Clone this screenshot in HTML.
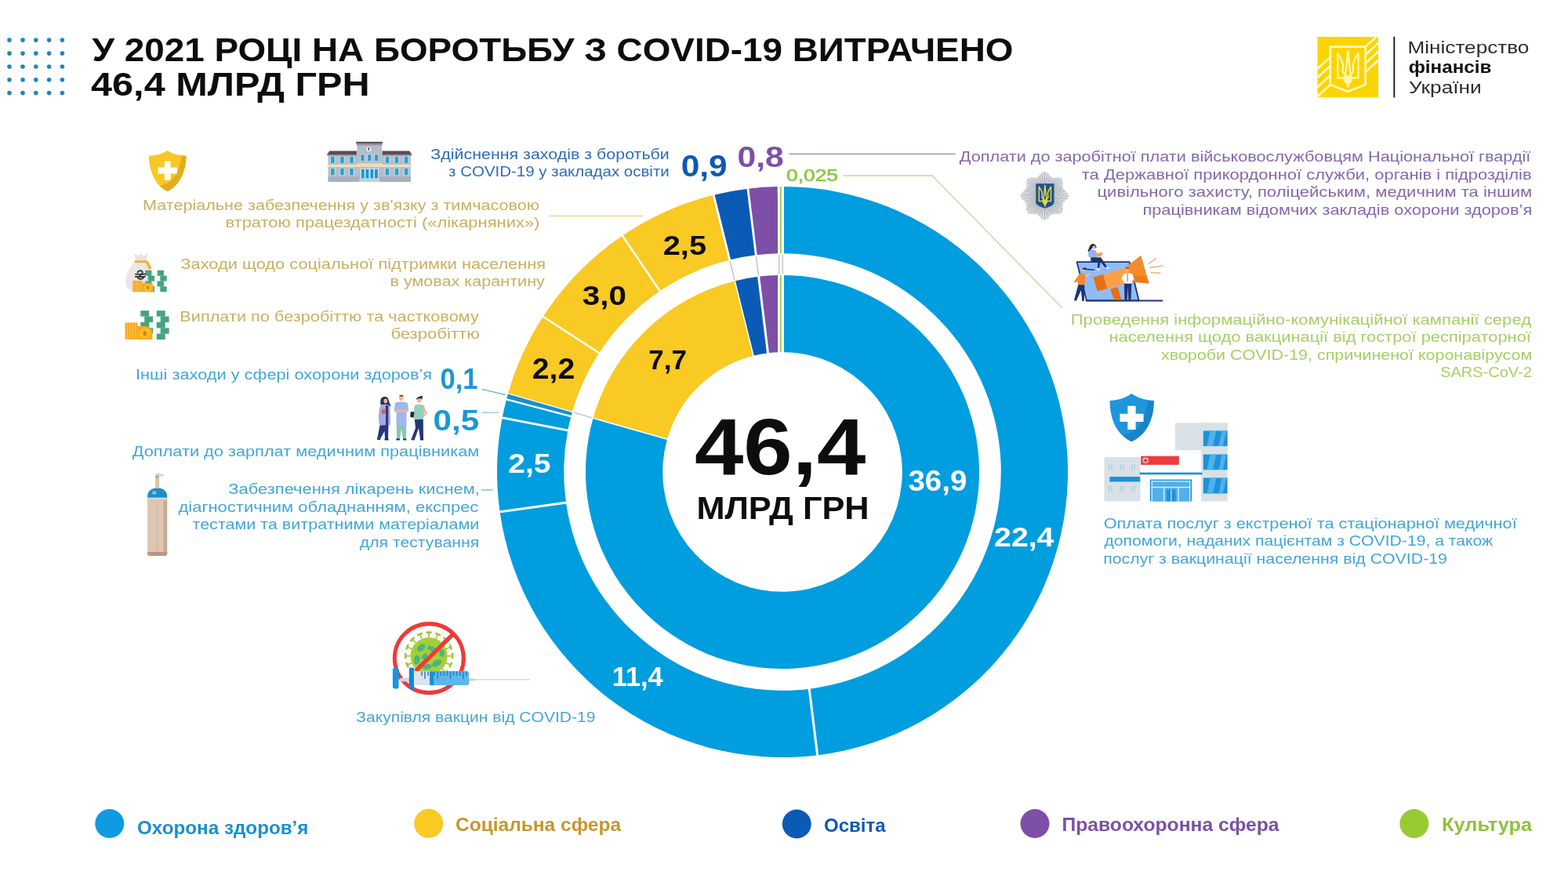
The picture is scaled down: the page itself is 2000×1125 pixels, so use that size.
<!DOCTYPE html>
<html lang="uk"><head><meta charset="utf-8"><title>У 2021 році на боротьбу з COVID-19 витрачено 46,4 млрд грн</title>
<style>html,body{margin:0;padding:0;background:#fff;}body{width:2000px;height:1125px;overflow:hidden;font-family:"Liberation Sans",sans-serif;}svg{display:block;}</style>
</head><body>
<svg width="2000" height="1125" viewBox="0 0 2000 1125" font-family="'Liberation Sans', sans-serif">
<rect width="2000" height="1125" fill="#ffffff"/>
<g id="dots"><circle cx="12" cy="51.1" r="2.8" fill="#2285bb"/>
<circle cx="12" cy="68.1" r="2.8" fill="#2285bb"/>
<circle cx="12" cy="85" r="2.8" fill="#2285bb"/>
<circle cx="12" cy="101.8" r="2.8" fill="#2285bb"/>
<circle cx="12" cy="118.6" r="2.8" fill="#2285bb"/>
<circle cx="29" cy="51.1" r="2.8" fill="#2285bb"/>
<circle cx="29" cy="68.1" r="2.8" fill="#2285bb"/>
<circle cx="29" cy="85" r="2.8" fill="#2285bb"/>
<circle cx="29" cy="101.8" r="2.8" fill="#2285bb"/>
<circle cx="29" cy="118.6" r="2.8" fill="#2285bb"/>
<circle cx="45.8" cy="51.1" r="2.8" fill="#2285bb"/>
<circle cx="45.8" cy="68.1" r="2.8" fill="#2285bb"/>
<circle cx="45.8" cy="85" r="2.8" fill="#2285bb"/>
<circle cx="45.8" cy="101.8" r="2.8" fill="#2285bb"/>
<circle cx="45.8" cy="118.6" r="2.8" fill="#2285bb"/>
<circle cx="62.6" cy="51.1" r="2.8" fill="#2285bb"/>
<circle cx="62.6" cy="68.1" r="2.8" fill="#2285bb"/>
<circle cx="62.6" cy="85" r="2.8" fill="#2285bb"/>
<circle cx="62.6" cy="101.8" r="2.8" fill="#2285bb"/>
<circle cx="62.6" cy="118.6" r="2.8" fill="#2285bb"/>
<circle cx="79.4" cy="51.1" r="2.8" fill="#2285bb"/>
<circle cx="79.4" cy="68.1" r="2.8" fill="#2285bb"/>
<circle cx="79.4" cy="85" r="2.8" fill="#2285bb"/>
<circle cx="79.4" cy="101.8" r="2.8" fill="#2285bb"/>
<circle cx="79.4" cy="118.6" r="2.8" fill="#2285bb"/></g>
<g id="chart"><path d="M998.00,238.00 A364.0,364.0 0 0 1 1042.68,963.25 L1032.22,878.69 A278.8,278.8 0 0 0 998.00,323.20 Z" fill="#009ddf"/>
<path d="M1042.68,963.25 A364.0,364.0 0 0 1 637.59,652.97 L721.95,641.04 A278.8,278.8 0 0 0 1032.22,878.69 Z" fill="#009ddf"/>
<path d="M637.59,652.97 A364.0,364.0 0 0 1 640.63,532.86 L724.28,549.04 A278.8,278.8 0 0 0 721.95,641.04 Z" fill="#009ddf"/>
<path d="M640.63,532.86 A364.0,364.0 0 0 1 645.98,509.39 L728.38,531.06 A278.8,278.8 0 0 0 724.28,549.04 Z" fill="#009ddf"/>
<path d="M645.98,509.39 A364.0,364.0 0 0 1 648.01,501.97 L729.93,525.39 A278.8,278.8 0 0 0 728.38,531.06 Z" fill="#1790d2"/>
<path d="M648.01,501.97 A364.0,364.0 0 0 1 692.72,403.75 L764.18,450.15 A278.8,278.8 0 0 0 729.93,525.39 Z" fill="#f9c924"/>
<path d="M692.72,403.75 A364.0,364.0 0 0 1 793.93,300.59 L841.69,371.14 A278.8,278.8 0 0 0 764.18,450.15 Z" fill="#f9c924"/>
<path d="M793.93,300.59 A364.0,364.0 0 0 1 910.19,248.75 L930.74,331.43 A278.8,278.8 0 0 0 841.69,371.14 Z" fill="#f9c924"/>
<path d="M910.19,248.75 A364.0,364.0 0 0 1 953.95,240.67 L964.26,325.25 A278.8,278.8 0 0 0 930.74,331.43 Z" fill="#0b5ab6"/>
<path d="M953.95,240.67 A364.0,364.0 0 0 1 991.65,238.06 L993.13,323.24 A278.8,278.8 0 0 0 964.26,325.25 Z" fill="#7d4fa6"/>
<line x1="1032.10" y1="877.70" x2="1042.80" y2="964.24" stroke="#fff" stroke-width="3.0"/>
<line x1="722.94" y1="640.90" x2="636.60" y2="653.11" stroke="#fff" stroke-width="3.0"/>
<line x1="725.26" y1="549.23" x2="639.65" y2="532.67" stroke="#fff" stroke-width="2.8"/>
<line x1="729.34" y1="531.32" x2="645.01" y2="509.13" stroke="#fff" stroke-width="2.2"/>
<line x1="730.89" y1="525.66" x2="647.05" y2="501.70" stroke="#fff" stroke-width="1.2"/>
<line x1="765.02" y1="450.70" x2="691.89" y2="403.21" stroke="#fff" stroke-width="2.4"/>
<line x1="842.25" y1="371.96" x2="793.37" y2="299.76" stroke="#fff" stroke-width="2.4"/>
<line x1="930.98" y1="332.40" x2="909.95" y2="247.78" stroke="#fff" stroke-width="2.8"/>
<line x1="964.39" y1="326.24" x2="953.83" y2="239.68" stroke="#fff" stroke-width="2.8"/>
<rect x="992.1" y="237.00" width="7.9" height="87.20" fill="#fff"/>
<rect x="994.9" y="238.00" width="1.7" height="85.20" fill="#8dc63f"/>
<path d="M998.00,351.00 A251.0,251.0 0 1 1 756.57,533.36 L851.02,560.22 A152.8,152.8 0 1 0 998.00,449.20 Z" fill="#009ddf"/>
<path d="M756.57,533.36 A251.0,251.0 0 0 1 937.28,358.46 L961.03,453.74 A152.8,152.8 0 0 0 851.02,560.22 Z" fill="#f9c924"/>
<path d="M937.28,358.46 A251.0,251.0 0 0 1 967.63,352.84 L979.51,450.32 A152.8,152.8 0 0 0 961.03,453.74 Z" fill="#0b5ab6"/>
<path d="M967.63,352.84 A251.0,251.0 0 0 1 993.62,351.04 L995.33,449.22 A152.8,152.8 0 0 0 979.51,450.32 Z" fill="#7d4fa6"/>
<line x1="851.99" y1="560.49" x2="755.61" y2="533.09" stroke="#fff" stroke-width="1.6"/>
<line x1="961.28" y1="454.71" x2="937.04" y2="357.49" stroke="#fff" stroke-width="1.5"/>
<line x1="979.63" y1="451.32" x2="967.51" y2="351.85" stroke="#fff" stroke-width="3.0"/>
<rect x="992.1" y="350.00" width="7.9" height="100.20" fill="#fff"/>
<rect x="994.9" y="351.00" width="1.7" height="98.20" fill="#8dc63f"/>
<line x1="755.12" y1="532.95" x2="731.38" y2="525.80" stroke="#c4c9d4" stroke-width="1.7"/>
<line x1="936.91" y1="357.00" x2="931.10" y2="332.89" stroke="#c4c9d4" stroke-width="1.7"/>
<line x1="967.45" y1="351.36" x2="964.45" y2="326.74" stroke="#c4c9d4" stroke-width="1.7"/>
<line x1="993.7" y1="324.7" x2="993.7" y2="349.5" stroke="#c4c9d4" stroke-width="1.6"/>
<line x1="998.3" y1="324.7" x2="998.3" y2="349.5" stroke="#c4c9d4" stroke-width="1.6"/></g>
<g id="leaders">
<line x1="701" y1="275.5" x2="820" y2="275.5" stroke="#e6dc8f" stroke-width="1.3"/>
<line x1="1006.4" y1="196.3" x2="1218.5" y2="196.3" stroke="#9383ad" stroke-width="1.3"/>
<polyline points="1075.4,224 1189,224 1355,393" fill="none" stroke="#c6d79a" stroke-width="1.3"/>
<line x1="614.4" y1="496.3" x2="644.8" y2="503.7" stroke="#6fa9cc" stroke-width="1.3"/>
<line x1="614.4" y1="526.1" x2="636.3" y2="526.1" stroke="#8cc3e0" stroke-width="1.3"/>
<line x1="613.75" y1="625" x2="628.75" y2="625" stroke="#6fb2d8" stroke-width="1.3"/>
</g>
<g id="icons"><g transform="translate(1670,40) scale(0.08000)"><clipPath id="lgc"><rect x="128" y="85" width="972" height="970"/></clipPath><g clip-path="url(#lgc)">
<rect x="128" y="85" width="972" height="970" fill="#fcd400"/>
<g stroke="#fff8b8" stroke-width="34" fill="none">
<path d="M128,600 L335,410 M128,740 L335,550 M128,890 L335,700 M128,1040 L335,850"/>
<path d="M895,245 L1075,85 M895,375 L1100,185 M895,510 L1100,320 M895,650 L1100,460"/>
</g>
<path d="M335,245 L895,245 L895,850 L615,960 L335,850 Z" fill="#fcd400" stroke="#fff8b8" stroke-width="34" stroke-linejoin="miter"/>
<g transform="translate(435,310) scale(0.91,0.96)"><g fill="none" stroke="#fff8b8" stroke-width="30" stroke-linejoin="round" stroke-linecap="round">
<path d="M20,40 L20,450 L130,450 C140,490 160,520 185,535 L185,470 C150,455 135,420 150,385 C115,370 95,340 110,300 C130,250 95,140 20,40 Z"/>
<path d="M380,40 L380,450 L270,450 C260,490 240,520 215,535 L215,470 C250,455 265,420 250,385 C285,370 305,340 290,300 C270,250 305,140 380,40 Z"/>
<path d="M200,0 C180,120 185,250 150,385 C170,400 190,430 200,470 C210,430 230,400 250,385 C215,250 220,120 200,0 Z"/>
<path d="M185,535 C190,560 195,580 200,600 C205,580 210,560 215,535"/>
</g></g>
<rect x="1346" y="85" width="22" height="970" fill="#1d1d1d"/>
</g><rect x="1342" y="85" width="24" height="970" fill="#1d1d1d"/></g>
<g transform="translate(170,180) scale(0.06223)">
<path d="M700,190 C620,260 480,295 320,300 C320,560 420,900 700,1030 C980,900 1085,560 1085,300 C920,295 780,260 700,190 Z" fill="#f8c826"/>
<path d="M1085,300 C1085,560 980,900 700,1030 C640,1000 590,960 545,915 C800,870 960,640 985,298 Z" fill="#e0ad1c"/>
<path d="M640,415 h125 v125 h135 v125 h-135 v135 h-125 v-135 h-135 v-125 h135 Z" fill="#fffdf5"/>
</g>
<g transform="translate(400,170) scale(0.07000)"><rect x="265" y="395" width="1505" height="490" fill="#b7bccb"/><path d="M245,385 L290,320 L785,320 L785,400 L245,400 Z" fill="#5b4b55"/><path d="M1790,385 L1745,320 L1250,320 L1250,400 L1790,400 Z" fill="#5b4b55"/><rect x="245" y="385" width="540" height="22" fill="#8d8590"/><rect x="1250" y="385" width="540" height="22" fill="#8d8590"/><rect x="790" y="200" width="455" height="685" fill="#b7bccb"/><rect x="775" y="155" width="480" height="35" fill="#5b4b55"/><rect x="785" y="190" width="465" height="28" fill="#8f8a98"/><rect x="265" y="790" width="1505" height="95" fill="#a9afc0"/><rect x="245" y="570" width="1545" height="45" fill="#f1dfae"/><rect x="790" y="545" width="455" height="50" fill="#ecd9b0"/><rect x="301" y="417" width="93" height="132" fill="#c9e6f2"/><rect x="315" y="425" width="65" height="120" fill="#2e9fc6"/><rect x="301" y="632" width="93" height="132" fill="#c9e6f2"/><rect x="315" y="640" width="65" height="120" fill="#2e9fc6"/><rect x="473" y="417" width="93" height="132" fill="#c9e6f2"/><rect x="487" y="425" width="65" height="120" fill="#2e9fc6"/><rect x="473" y="632" width="93" height="132" fill="#c9e6f2"/><rect x="487" y="640" width="65" height="120" fill="#2e9fc6"/><rect x="646" y="417" width="93" height="132" fill="#c9e6f2"/><rect x="660" y="425" width="65" height="120" fill="#2e9fc6"/><rect x="646" y="632" width="93" height="132" fill="#c9e6f2"/><rect x="660" y="640" width="65" height="120" fill="#2e9fc6"/><rect x="1296" y="417" width="93" height="132" fill="#c9e6f2"/><rect x="1310" y="425" width="65" height="120" fill="#2e9fc6"/><rect x="1296" y="632" width="93" height="132" fill="#c9e6f2"/><rect x="1310" y="640" width="65" height="120" fill="#2e9fc6"/><rect x="1468" y="417" width="93" height="132" fill="#c9e6f2"/><rect x="1482" y="425" width="65" height="120" fill="#2e9fc6"/><rect x="1468" y="632" width="93" height="132" fill="#c9e6f2"/><rect x="1482" y="640" width="65" height="120" fill="#2e9fc6"/><rect x="1641" y="417" width="93" height="132" fill="#c9e6f2"/><rect x="1655" y="425" width="65" height="120" fill="#2e9fc6"/><rect x="1641" y="632" width="93" height="132" fill="#c9e6f2"/><rect x="1655" y="640" width="65" height="120" fill="#2e9fc6"/><rect x="850" y="380" width="84" height="135" fill="#c9e6f2"/><rect x="862" y="390" width="60" height="115" fill="#2e9fc6"/><rect x="976" y="380" width="84" height="135" fill="#c9e6f2"/><rect x="988" y="390" width="60" height="115" fill="#2e9fc6"/><rect x="1103" y="380" width="84" height="135" fill="#c9e6f2"/><rect x="1115" y="390" width="60" height="115" fill="#2e9fc6"/><rect x="850" y="640" width="335" height="245" fill="#cfe9f3"/><rect x="870" y="655" width="55" height="165" fill="#1f96cf"/><rect x="950" y="655" width="55" height="165" fill="#1f96cf"/><rect x="1035" y="655" width="55" height="165" fill="#1f96cf"/><rect x="1115" y="655" width="55" height="165" fill="#1f96cf"/><rect x="830" y="830" width="375" height="55" fill="#c4ccd8"/><circle cx="1005" cy="290" r="42" fill="#eef0f4"/><ellipse cx="1005" cy="285" rx="12" ry="30" fill="#3a3f55"/></g>
<g transform="translate(140,310) scale(0.12438)"><path d="M250,105 L290,135 L320,110 L350,135 L390,100 L375,180 L265,180 Z" fill="#e6e3e1"/><path d="M265,185 L375,185 C420,240 470,330 460,420 C450,490 380,500 310,500 C230,500 165,480 160,400 C155,320 215,230 265,185 Z" fill="#ebe7e4"/><path d="M255,178 L385,178 L400,200 L430,260 L400,270 L370,200 L255,200 Z" fill="#f5b02e"/><rect x="415.3" y="329.5" width="122.1" height="170.5" fill="#f3f8f5"/><rect x="362.0" y="280.0" width="66.6" height="55.8" fill="#45a37f"/><rect x="487.4" y="280.0" width="66.6" height="55.8" fill="#45a37f"/><rect x="392.0" y="335.0" width="66.6" height="55.8" fill="#45a37f"/><rect x="517.4" y="335.0" width="66.6" height="55.8" fill="#45a37f"/><rect x="362.0" y="390.0" width="66.6" height="55.8" fill="#45a37f"/><rect x="487.4" y="390.0" width="66.6" height="55.8" fill="#45a37f"/><rect x="392.0" y="445.0" width="66.6" height="55.8" fill="#45a37f"/><rect x="517.4" y="445.0" width="66.6" height="55.8" fill="#45a37f"/><rect x="235" y="385" width="98.9" height="115" rx="5" fill="#f6a823"/><rect x="246.9" y="390" width="8.9" height="105" fill="#fcc243"/><rect x="268.6" y="390" width="8.9" height="105" fill="#fcc243"/><rect x="290.4" y="390" width="8.9" height="105" fill="#fcc243"/><rect x="312.1" y="390" width="8.9" height="105" fill="#fcc243"/><path d="M331.9,408.0 L396.9,408.0 Q450.0,417.2 450.0,449.4 L450.0,500.0 L331.9,500.0 Z" fill="#f7a91f"/><ellipse cx="390.9" cy="458.6" rx="44.9" ry="36.8" fill="#fdbb2a"/><ellipse cx="390.9" cy="458.6" rx="13.0" ry="17.5" fill="#c98514"/><g stroke="#3b3b3f" stroke-width="16" fill="none" stroke-linecap="round"><path d="M285,300 C300,275 340,280 335,305 C330,325 300,335 290,360 C310,375 335,370 345,355"/><path d="M265,320 L360,320 M265,345 L360,345"/></g></g>
<g transform="translate(140,310) scale(0.12438)"><rect x="386.1" y="746.3" width="160.6" height="242.7" fill="#f3f8f5"/><rect x="316.0" y="693.0" width="87.6" height="60.0" fill="#45a37f"/><rect x="481.0" y="693.0" width="87.6" height="60.0" fill="#45a37f"/><rect x="355.4" y="752.2" width="87.6" height="60.0" fill="#45a37f"/><rect x="520.4" y="752.2" width="87.6" height="60.0" fill="#45a37f"/><rect x="316.0" y="811.4" width="87.6" height="60.0" fill="#45a37f"/><rect x="481.0" y="811.4" width="87.6" height="60.0" fill="#45a37f"/><rect x="355.4" y="870.6" width="87.6" height="60.0" fill="#45a37f"/><rect x="520.4" y="870.6" width="87.6" height="60.0" fill="#45a37f"/><rect x="316.0" y="929.8" width="87.6" height="60.0" fill="#45a37f"/><rect x="481.0" y="929.8" width="87.6" height="60.0" fill="#45a37f"/><rect x="157" y="817" width="128.8" height="172" rx="5" fill="#f6a823"/><rect x="172.5" y="822" width="11.6" height="162" fill="#fcc243"/><rect x="200.8" y="822" width="11.6" height="162" fill="#fcc243"/><rect x="229.1" y="822" width="11.6" height="162" fill="#fcc243"/><rect x="257.5" y="822" width="11.6" height="162" fill="#fcc243"/><path d="M283.8,851.4 L368.1,851.4 Q437.0,865.2 437.0,913.3 L437.0,989.0 L283.8,989.0 Z" fill="#f7a91f"/><ellipse cx="360.4" cy="927.1" rx="58.2" ry="55.0" fill="#fdbb2a"/><ellipse cx="360.4" cy="927.1" rx="16.9" ry="26.1" fill="#c98514"/></g>
<g transform="translate(160,590) scale(0.11561)"><rect x="243" y="390" width="217" height="640" rx="28" fill="#dfc5b5"/><rect x="243" y="390" width="217" height="60" fill="#dfc5b5"/><path d="M420,395 L460,395 L460,1000 Q460,1030 430,1030 L420,1030 Z" fill="#c9a992"/><rect x="345" y="400" width="12" height="590" fill="#d5b7a5"/><path d="M243,985 L460,985 L460,1002 Q460,1030 432,1030 L271,1030 Q243,1030 243,1002 Z" fill="#b9957f"/><rect x="243" y="385" width="217" height="22" fill="#c8dfe8"/><rect x="243" y="405" width="217" height="18" fill="#e9bfa5"/><path d="M243,388 L243,370 C243,320 290,280 352,280 C414,280 460,320 460,370 L460,388 Z" fill="#1e8fcb"/><path d="M290,325 L330,310 L345,345 L305,355 Z" fill="#7cc4ea"/><rect x="330" y="150" width="42" height="135" fill="#e0c0a8"/><rect x="330" y="140" width="42" height="28" fill="#b9a595"/><path d="M340,110 L420,135 L415,155 L340,140 Z" fill="#d8d4d2"/></g>
<g transform="translate(460,490) scale(0.10000)"><path d="M285,165 C250,170 250,230 255,260 L270,270 L335,260 L380,285 L385,265 C360,250 365,200 345,175 C330,160 300,158 285,165 Z" fill="#2a2d5c"/><ellipse cx="318" cy="215" rx="24" ry="30" fill="#f2b48f"/><path d="M255,265 C300,250 340,255 375,275 L380,520 L240,525 C225,430 225,340 255,265 Z" fill="#a9a7e0"/><rect x="320" y="270" width="32" height="255" fill="#2b3a86"/><path d="M265,330 L310,310 L320,365 L275,385 Z" fill="#c9665a"/><path d="M245,525 L355,520 L350,700 L310,700 L305,600 L255,690 L215,680 Z" fill="#27357a"/><path d="M210,680 L255,690 L245,715 L210,705 Z M305,695 L355,695 L358,715 L305,715 Z" fill="#1d2553"/><ellipse cx="518" cy="175" rx="28" ry="34" fill="#f2b48f"/><path d="M488,165 C485,130 550,125 550,165 L548,150 L490,152 Z" fill="#2a2d3c"/><path d="M440,240 C480,220 560,220 600,240 L612,340 L585,350 L585,530 L455,530 L455,350 L425,340 Z" fill="#9fb8ea"/><path d="M430,325 L605,325 L605,355 L430,355 Z" fill="#f2b48f"/><path d="M458,530 L582,530 L580,700 L540,700 L520,570 L500,700 L460,700 Z" fill="#86c5b4"/><path d="M455,695 L500,695 L500,715 L450,715 Z M540,695 L582,695 L585,715 L540,715 Z" fill="#2a2d5c"/><ellipse cx="748" cy="205" rx="27" ry="32" fill="#f2b48f"/><path d="M710,200 C705,165 760,150 790,150 L785,195 C770,180 740,178 720,190 Z" fill="#2a2d5c"/><path d="M690,270 C730,250 780,255 815,280 L800,450 L685,455 C675,390 675,320 690,270 Z" fill="#93d0c0"/><path d="M810,290 L850,370 L805,420 L795,400 L820,370 L795,310 Z" fill="#f2b48f"/><path d="M640,350 L685,355 L675,430 L630,415 Z" fill="#1f2542"/><path d="M688,452 L798,448 L800,700 L760,700 L740,560 L690,700 L650,690 L700,560 Z" fill="#27357a"/><path d="M645,690 L690,700 L685,715 L645,712 Z M760,695 L800,695 L802,715 L758,715 Z" fill="#1d2553"/></g>
<g transform="translate(480,780) scale(0.11000)"><line x1="825" y1="515" x2="882" y2="515" stroke="#a3c93c" stroke-width="16"/><line x1="882" y1="493" x2="882" y2="537" stroke="#a3c93c" stroke-width="26" stroke-linecap="round"/><line x1="809" y1="597" x2="861" y2="619" stroke="#a3c93c" stroke-width="16"/><line x1="870" y1="599" x2="853" y2="639" stroke="#a3c93c" stroke-width="26" stroke-linecap="round"/><line x1="762" y1="667" x2="802" y2="707" stroke="#a3c93c" stroke-width="16"/><line x1="818" y1="692" x2="787" y2="723" stroke="#a3c93c" stroke-width="26" stroke-linecap="round"/><line x1="692" y1="714" x2="714" y2="766" stroke="#a3c93c" stroke-width="16"/><line x1="734" y1="758" x2="694" y2="775" stroke="#a3c93c" stroke-width="26" stroke-linecap="round"/><line x1="610" y1="730" x2="610" y2="787" stroke="#a3c93c" stroke-width="16"/><line x1="632" y1="787" x2="588" y2="787" stroke="#a3c93c" stroke-width="26" stroke-linecap="round"/><line x1="528" y1="714" x2="506" y2="766" stroke="#a3c93c" stroke-width="16"/><line x1="526" y1="775" x2="486" y2="758" stroke="#a3c93c" stroke-width="26" stroke-linecap="round"/><line x1="458" y1="667" x2="418" y2="707" stroke="#a3c93c" stroke-width="16"/><line x1="433" y1="723" x2="402" y2="692" stroke="#a3c93c" stroke-width="26" stroke-linecap="round"/><line x1="411" y1="597" x2="359" y2="619" stroke="#a3c93c" stroke-width="16"/><line x1="367" y1="639" x2="350" y2="599" stroke="#a3c93c" stroke-width="26" stroke-linecap="round"/><line x1="395" y1="515" x2="338" y2="515" stroke="#a3c93c" stroke-width="16"/><line x1="338" y1="537" x2="338" y2="493" stroke="#a3c93c" stroke-width="26" stroke-linecap="round"/><line x1="411" y1="433" x2="359" y2="411" stroke="#a3c93c" stroke-width="16"/><line x1="350" y1="431" x2="367" y2="391" stroke="#a3c93c" stroke-width="26" stroke-linecap="round"/><line x1="458" y1="363" x2="418" y2="323" stroke="#a3c93c" stroke-width="16"/><line x1="402" y1="338" x2="433" y2="307" stroke="#a3c93c" stroke-width="26" stroke-linecap="round"/><line x1="528" y1="316" x2="506" y2="264" stroke="#a3c93c" stroke-width="16"/><line x1="486" y1="272" x2="526" y2="255" stroke="#a3c93c" stroke-width="26" stroke-linecap="round"/><line x1="610" y1="300" x2="610" y2="243" stroke="#a3c93c" stroke-width="16"/><line x1="588" y1="243" x2="632" y2="243" stroke="#a3c93c" stroke-width="26" stroke-linecap="round"/><line x1="692" y1="316" x2="714" y2="264" stroke="#a3c93c" stroke-width="16"/><line x1="694" y1="255" x2="734" y2="272" stroke="#a3c93c" stroke-width="26" stroke-linecap="round"/><line x1="762" y1="363" x2="802" y2="323" stroke="#a3c93c" stroke-width="16"/><line x1="787" y1="307" x2="818" y2="338" stroke="#a3c93c" stroke-width="26" stroke-linecap="round"/><line x1="809" y1="433" x2="861" y2="411" stroke="#a3c93c" stroke-width="16"/><line x1="853" y1="391" x2="870" y2="431" stroke="#a3c93c" stroke-width="26" stroke-linecap="round"/><circle cx="610" cy="515" r="215" fill="#a5cf3a"/><ellipse cx="520" cy="420" rx="55" ry="35" transform="rotate(-40 520 420)" fill="#4fb37a"/><ellipse cx="700" cy="600" rx="60" ry="35" transform="rotate(-30 700 600)" fill="#4fb37a"/><ellipse cx="470" cy="560" rx="35" ry="55" transform="rotate(10 470 560)" fill="#4fb37a"/><ellipse cx="640" cy="430" rx="50" ry="28" transform="rotate(20 640 430)" fill="#4fb37a"/><ellipse cx="590" cy="640" rx="55" ry="30" transform="rotate(-10 590 640)" fill="#4fb37a"/><ellipse cx="760" cy="480" rx="30" ry="45" transform="rotate(0 760 480)" fill="#4fb37a"/><ellipse cx="560" cy="520" rx="40" ry="25" transform="rotate(-45 560 520)" fill="#4fb37a"/><circle cx="612" cy="542" r="400" fill="none" stroke="#ee3a3a" stroke-width="46"/><line x1="455" y1="690" x2="890" y2="262" stroke="#ee3a3a" stroke-width="48"/><rect x="275" y="772" width="200" height="40" fill="#cfd6df"/><rect x="435" y="690" width="640" height="165" rx="30" fill="#dbe3ec"/><path d="M620,690 L1045,690 Q1075,690 1075,720 L1075,825 Q1075,855 1045,855 L620,855 Z" fill="#5db7ea"/><rect x="620" y="700" width="45" height="155" fill="#1a8fd3"/><rect x="520" y="695" width="14" height="50" fill="#2b7fc0"/><rect x="557" y="695" width="14" height="85" fill="#2b7fc0"/><rect x="594" y="695" width="14" height="50" fill="#2b7fc0"/><rect x="631" y="695" width="14" height="50" fill="#2b7fc0"/><rect x="668" y="695" width="14" height="50" fill="#2b7fc0"/><rect x="705" y="695" width="14" height="85" fill="#2b7fc0"/><rect x="742" y="695" width="14" height="50" fill="#2b7fc0"/><rect x="779" y="695" width="14" height="50" fill="#2b7fc0"/><rect x="816" y="695" width="14" height="50" fill="#2b7fc0"/><rect x="853" y="695" width="14" height="85" fill="#2b7fc0"/><rect x="890" y="695" width="14" height="50" fill="#2b7fc0"/><rect x="927" y="695" width="14" height="50" fill="#2b7fc0"/><rect x="964" y="695" width="14" height="50" fill="#2b7fc0"/><rect x="1001" y="695" width="14" height="85" fill="#2b7fc0"/><rect x="1038" y="695" width="14" height="50" fill="#2b7fc0"/><rect x="190" y="655" width="70" height="240" rx="22" fill="#1b95dc"/><rect x="380" y="650" width="56" height="250" rx="14" fill="#1687cf"/><rect x="1075" y="778" width="70" height="26" fill="#c9cdd3"/><rect x="1140" y="783" width="640" height="12" fill="#d3d3d3"/></g>
<g transform="translate(1280,200) scale(0.08889)"><line x1="590" y1="560" x2="937" y2="560" stroke="#a9aeb6" stroke-width="13"/><line x1="590" y1="560" x2="932" y2="582" stroke="#c3c7cd" stroke-width="13"/><line x1="590" y1="560" x2="919" y2="603" stroke="#a9aeb6" stroke-width="13"/><line x1="590" y1="560" x2="900" y2="622" stroke="#c3c7cd" stroke-width="13"/><line x1="590" y1="560" x2="880" y2="638" stroke="#a9aeb6" stroke-width="13"/><line x1="590" y1="560" x2="864" y2="653" stroke="#c3c7cd" stroke-width="13"/><line x1="590" y1="560" x2="853" y2="669" stroke="#a9aeb6" stroke-width="13"/><line x1="590" y1="560" x2="849" y2="688" stroke="#c3c7cd" stroke-width="13"/><line x1="590" y1="560" x2="850" y2="710" stroke="#a9aeb6" stroke-width="13"/><line x1="590" y1="560" x2="853" y2="736" stroke="#c3c7cd" stroke-width="13"/><line x1="590" y1="560" x2="853" y2="762" stroke="#a9aeb6" stroke-width="13"/><line x1="590" y1="560" x2="848" y2="786" stroke="#c3c7cd" stroke-width="13"/><line x1="590" y1="560" x2="835" y2="805" stroke="#a9aeb6" stroke-width="13"/><line x1="590" y1="560" x2="816" y2="818" stroke="#c3c7cd" stroke-width="13"/><line x1="590" y1="560" x2="792" y2="823" stroke="#a9aeb6" stroke-width="13"/><line x1="590" y1="560" x2="766" y2="823" stroke="#c3c7cd" stroke-width="13"/><line x1="590" y1="560" x2="740" y2="820" stroke="#a9aeb6" stroke-width="13"/><line x1="590" y1="560" x2="718" y2="819" stroke="#c3c7cd" stroke-width="13"/><line x1="590" y1="560" x2="699" y2="823" stroke="#a9aeb6" stroke-width="13"/><line x1="590" y1="560" x2="683" y2="834" stroke="#c3c7cd" stroke-width="13"/><line x1="590" y1="560" x2="668" y2="850" stroke="#a9aeb6" stroke-width="13"/><line x1="590" y1="560" x2="652" y2="870" stroke="#c3c7cd" stroke-width="13"/><line x1="590" y1="560" x2="633" y2="889" stroke="#a9aeb6" stroke-width="13"/><line x1="590" y1="560" x2="612" y2="902" stroke="#c3c7cd" stroke-width="13"/><line x1="590" y1="560" x2="590" y2="907" stroke="#a9aeb6" stroke-width="13"/><line x1="590" y1="560" x2="568" y2="902" stroke="#c3c7cd" stroke-width="13"/><line x1="590" y1="560" x2="547" y2="889" stroke="#a9aeb6" stroke-width="13"/><line x1="590" y1="560" x2="528" y2="870" stroke="#c3c7cd" stroke-width="13"/><line x1="590" y1="560" x2="512" y2="850" stroke="#a9aeb6" stroke-width="13"/><line x1="590" y1="560" x2="497" y2="834" stroke="#c3c7cd" stroke-width="13"/><line x1="590" y1="560" x2="481" y2="823" stroke="#a9aeb6" stroke-width="13"/><line x1="590" y1="560" x2="462" y2="819" stroke="#c3c7cd" stroke-width="13"/><line x1="590" y1="560" x2="440" y2="820" stroke="#a9aeb6" stroke-width="13"/><line x1="590" y1="560" x2="414" y2="823" stroke="#c3c7cd" stroke-width="13"/><line x1="590" y1="560" x2="388" y2="823" stroke="#a9aeb6" stroke-width="13"/><line x1="590" y1="560" x2="364" y2="818" stroke="#c3c7cd" stroke-width="13"/><line x1="590" y1="560" x2="345" y2="805" stroke="#a9aeb6" stroke-width="13"/><line x1="590" y1="560" x2="332" y2="786" stroke="#c3c7cd" stroke-width="13"/><line x1="590" y1="560" x2="327" y2="762" stroke="#a9aeb6" stroke-width="13"/><line x1="590" y1="560" x2="327" y2="736" stroke="#c3c7cd" stroke-width="13"/><line x1="590" y1="560" x2="330" y2="710" stroke="#a9aeb6" stroke-width="13"/><line x1="590" y1="560" x2="331" y2="688" stroke="#c3c7cd" stroke-width="13"/><line x1="590" y1="560" x2="327" y2="669" stroke="#a9aeb6" stroke-width="13"/><line x1="590" y1="560" x2="316" y2="653" stroke="#c3c7cd" stroke-width="13"/><line x1="590" y1="560" x2="300" y2="638" stroke="#a9aeb6" stroke-width="13"/><line x1="590" y1="560" x2="280" y2="622" stroke="#c3c7cd" stroke-width="13"/><line x1="590" y1="560" x2="261" y2="603" stroke="#a9aeb6" stroke-width="13"/><line x1="590" y1="560" x2="248" y2="582" stroke="#c3c7cd" stroke-width="13"/><line x1="590" y1="560" x2="243" y2="560" stroke="#a9aeb6" stroke-width="13"/><line x1="590" y1="560" x2="248" y2="538" stroke="#c3c7cd" stroke-width="13"/><line x1="590" y1="560" x2="261" y2="517" stroke="#a9aeb6" stroke-width="13"/><line x1="590" y1="560" x2="280" y2="498" stroke="#c3c7cd" stroke-width="13"/><line x1="590" y1="560" x2="300" y2="482" stroke="#a9aeb6" stroke-width="13"/><line x1="590" y1="560" x2="316" y2="467" stroke="#c3c7cd" stroke-width="13"/><line x1="590" y1="560" x2="327" y2="451" stroke="#a9aeb6" stroke-width="13"/><line x1="590" y1="560" x2="331" y2="432" stroke="#c3c7cd" stroke-width="13"/><line x1="590" y1="560" x2="330" y2="410" stroke="#a9aeb6" stroke-width="13"/><line x1="590" y1="560" x2="327" y2="384" stroke="#c3c7cd" stroke-width="13"/><line x1="590" y1="560" x2="327" y2="358" stroke="#a9aeb6" stroke-width="13"/><line x1="590" y1="560" x2="332" y2="334" stroke="#c3c7cd" stroke-width="13"/><line x1="590" y1="560" x2="345" y2="315" stroke="#a9aeb6" stroke-width="13"/><line x1="590" y1="560" x2="364" y2="302" stroke="#c3c7cd" stroke-width="13"/><line x1="590" y1="560" x2="388" y2="297" stroke="#a9aeb6" stroke-width="13"/><line x1="590" y1="560" x2="414" y2="297" stroke="#c3c7cd" stroke-width="13"/><line x1="590" y1="560" x2="440" y2="300" stroke="#a9aeb6" stroke-width="13"/><line x1="590" y1="560" x2="462" y2="301" stroke="#c3c7cd" stroke-width="13"/><line x1="590" y1="560" x2="481" y2="297" stroke="#a9aeb6" stroke-width="13"/><line x1="590" y1="560" x2="497" y2="286" stroke="#c3c7cd" stroke-width="13"/><line x1="590" y1="560" x2="512" y2="270" stroke="#a9aeb6" stroke-width="13"/><line x1="590" y1="560" x2="528" y2="250" stroke="#c3c7cd" stroke-width="13"/><line x1="590" y1="560" x2="547" y2="231" stroke="#a9aeb6" stroke-width="13"/><line x1="590" y1="560" x2="568" y2="218" stroke="#c3c7cd" stroke-width="13"/><line x1="590" y1="560" x2="590" y2="213" stroke="#a9aeb6" stroke-width="13"/><line x1="590" y1="560" x2="612" y2="218" stroke="#c3c7cd" stroke-width="13"/><line x1="590" y1="560" x2="633" y2="231" stroke="#a9aeb6" stroke-width="13"/><line x1="590" y1="560" x2="652" y2="250" stroke="#c3c7cd" stroke-width="13"/><line x1="590" y1="560" x2="668" y2="270" stroke="#a9aeb6" stroke-width="13"/><line x1="590" y1="560" x2="683" y2="286" stroke="#c3c7cd" stroke-width="13"/><line x1="590" y1="560" x2="699" y2="297" stroke="#a9aeb6" stroke-width="13"/><line x1="590" y1="560" x2="718" y2="301" stroke="#c3c7cd" stroke-width="13"/><line x1="590" y1="560" x2="740" y2="300" stroke="#a9aeb6" stroke-width="13"/><line x1="590" y1="560" x2="766" y2="297" stroke="#c3c7cd" stroke-width="13"/><line x1="590" y1="560" x2="792" y2="297" stroke="#a9aeb6" stroke-width="13"/><line x1="590" y1="560" x2="816" y2="302" stroke="#c3c7cd" stroke-width="13"/><line x1="590" y1="560" x2="835" y2="315" stroke="#a9aeb6" stroke-width="13"/><line x1="590" y1="560" x2="848" y2="334" stroke="#c3c7cd" stroke-width="13"/><line x1="590" y1="560" x2="853" y2="358" stroke="#a9aeb6" stroke-width="13"/><line x1="590" y1="560" x2="853" y2="384" stroke="#c3c7cd" stroke-width="13"/><line x1="590" y1="560" x2="850" y2="410" stroke="#a9aeb6" stroke-width="13"/><line x1="590" y1="560" x2="849" y2="432" stroke="#c3c7cd" stroke-width="13"/><line x1="590" y1="560" x2="853" y2="451" stroke="#a9aeb6" stroke-width="13"/><line x1="590" y1="560" x2="864" y2="467" stroke="#c3c7cd" stroke-width="13"/><line x1="590" y1="560" x2="880" y2="482" stroke="#a9aeb6" stroke-width="13"/><line x1="590" y1="560" x2="900" y2="498" stroke="#c3c7cd" stroke-width="13"/><line x1="590" y1="560" x2="919" y2="517" stroke="#a9aeb6" stroke-width="13"/><line x1="590" y1="560" x2="932" y2="538" stroke="#c3c7cd" stroke-width="13"/><path d="M468,388 L722,388 L722,660 C722,690 660,715 595,735 C530,715 468,690 468,660 Z" fill="#1e4f9c" stroke="#2f6b5a" stroke-width="8"/><g transform="translate(500,410) scale(0.475,0.5)"><g fill="none" stroke="#f3dc2c" stroke-width="34" stroke-linejoin="round" stroke-linecap="round">
<path d="M20,40 L20,450 L130,450 C140,490 160,520 185,535 L185,470 C150,455 135,420 150,385 C115,370 95,340 110,300 C130,250 95,140 20,40 Z"/>
<path d="M380,40 L380,450 L270,450 C260,490 240,520 215,535 L215,470 C250,455 265,420 250,385 C285,370 305,340 290,300 C270,250 305,140 380,40 Z"/>
<path d="M200,0 C180,120 185,250 150,385 C170,400 190,430 200,470 C210,430 230,400 250,385 C215,250 220,120 200,0 Z"/>
<path d="M185,535 C190,560 195,580 200,600 C205,580 210,560 215,535"/>
</g></g></g>
<g transform="translate(1350,295) scale(0.08889)"><path d="M265,440 L1020,440 L1155,995 L405,995 Z" fill="#8fbcf7" stroke="#1d3478" stroke-width="20" stroke-linejoin="round"/><line x1="400" y1="995" x2="1490" y2="995" stroke="#1d3478" stroke-width="22" stroke-linecap="round"/><path d="M745,830 L850,800 L905,985 L800,985 Z" fill="#e86f14"/><path d="M960,520 L1185,345 L1300,750 L1060,725 Z" fill="#f58a2b"/><path d="M1000,640 L1270,640 L1300,750 L1060,725 Z" fill="#e86f14" opacity="0.55"/><path d="M500,660 L960,520 L1060,725 L560,860 Z" fill="#fba04a"/><path d="M500,660 L640,618 L700,822 L560,860 Z" fill="#e86f14"/><g stroke="#e9b88d" stroke-width="18" stroke-linecap="round"><line x1="1295" y1="465" x2="1400" y2="390"/><line x1="1320" y1="522" x2="1500" y2="495"/><line x1="1328" y1="590" x2="1460" y2="600"/></g><ellipse cx="990" cy="550" rx="26" ry="30" fill="#f5b592"/><path d="M962,540 C960,510 1020,505 1018,540 Z" fill="#c9541c"/><path d="M930,620 C960,590 1030,590 1065,620 L1085,690 L1055,720 L1050,750 L945,750 L940,720 L905,690 Z" fill="#fdfdfd"/><rect x="983" y="600" width="16" height="120" fill="#f58a2b"/><path d="M945,750 L1050,750 L1040,985 L1005,985 L997,800 L985,985 L950,985 Z" fill="#1d3478"/><ellipse cx="365" cy="555" rx="24" ry="28" fill="#f5b592"/><path d="M345,545 C345,515 395,515 400,535 L520,548 L518,562 L395,555 Z" fill="#1d3478"/><path d="M300,620 C330,590 380,595 385,640 L375,770 L285,765 L270,720 L235,740 L225,720 L280,640 Z" fill="#f58a2b"/><path d="M385,625 L455,600 L465,625 L390,660 Z" fill="#f5b592"/><path d="M285,765 L375,770 L370,1000 L340,1000 L325,850 L255,1000 L225,990 Z" fill="#1d3478"/><path d="M475,185 C440,200 445,250 420,280 L440,300 C460,280 470,260 480,245 L545,240 C550,200 510,170 475,185 Z" fill="#2b2a4c"/><ellipse cx="510" cy="230" rx="22" ry="26" fill="#f5b592"/><path d="M445,275 C480,255 530,260 545,290 L555,375 L440,375 C425,340 425,300 445,275 Z" fill="#8db4ef"/><path d="M535,315 L640,300 L615,360 L545,365 Z" fill="#fba04a"/><path d="M465,375 L610,375 L695,505 L670,520 L605,440 L585,530 L560,525 L565,440 L465,440 Z" fill="#1d3478"/><path d="M545,530 L590,535 L585,570 L555,560 Z M685,520 L735,515 L740,530 L690,540 Z" fill="#e8ecf5"/></g>
<g transform="translate(1390,490) scale(0.14225)"><path d="M375,85 C320,125 250,145 180,148 C180,300 230,450 375,515 C520,450 575,300 575,148 C505,145 430,125 375,85 Z" fill="#1e96dc"/><path d="M575,148 C575,300 520,450 375,515 C345,500 320,482 298,460 C430,430 510,320 520,146 Z" fill="#1785c8"/><path d="M340,195 h72 v70 h70 v72 h-70 v70 h-72 v-70 h-70 v-72 h70 Z" fill="#ffffff"/><rect x="765" y="348" width="470" height="245" fill="#d9e0e6"/><rect x="995" y="348" width="240" height="702" fill="#d9e0e6"/><rect x="1018" y="418" width="216" height="138" fill="#1d92d8"/><path d="M1080,418 L1135,418 L1105,556 L1050,556 Z" fill="#4fb0ea"/><path d="M1185,418 L1225,418 L1195,556 L1155,556 Z" fill="#4fb0ea"/><rect x="1018" y="630" width="216" height="138" fill="#1d92d8"/><path d="M1080,630 L1135,630 L1105,768 L1050,768 Z" fill="#4fb0ea"/><path d="M1185,630 L1225,630 L1195,768 L1155,768 Z" fill="#4fb0ea"/><rect x="1018" y="840" width="216" height="140" fill="#1d92d8"/><path d="M1080,840 L1135,840 L1105,980 L1050,980 Z" fill="#4fb0ea"/><path d="M1185,840 L1225,840 L1195,980 L1155,980 Z" fill="#4fb0ea"/><rect x="130" y="655" width="325" height="395" fill="#d9e0e6"/><rect x="178" y="830" width="275" height="45" fill="#1d92d8"/><rect x="167" y="717" width="36" height="56" fill="#b5d3e6"/><rect x="182" y="717" width="6" height="56" fill="#e6eef3"/><rect x="167" y="912" width="36" height="56" fill="#b5d3e6"/><rect x="182" y="912" width="6" height="56" fill="#e6eef3"/><rect x="272" y="717" width="36" height="56" fill="#b5d3e6"/><rect x="287" y="717" width="6" height="56" fill="#e6eef3"/><rect x="272" y="912" width="36" height="56" fill="#b5d3e6"/><rect x="287" y="912" width="6" height="56" fill="#e6eef3"/><rect x="372" y="717" width="36" height="56" fill="#b5d3e6"/><rect x="387" y="717" width="6" height="56" fill="#e6eef3"/><rect x="372" y="912" width="36" height="56" fill="#b5d3e6"/><rect x="387" y="912" width="6" height="56" fill="#e6eef3"/><rect x="455" y="600" width="545" height="450" fill="#fdfeff"/><rect x="458" y="645" width="342" height="78" fill="#ee3b3b"/><circle cx="500" cy="684" r="26" fill="#fbe3e3"/><path d="M493,664 h14 v13 h13 v14 h-13 v13 h-14 v-13 h-13 v-14 h13 Z" fill="#ee3b3b"/><rect x="448" y="792" width="560" height="19" fill="#1d92d8"/><rect x="540" y="855" width="375" height="195" fill="#1d92d8"/><rect x="560" y="875" width="335" height="175" fill="#4fb0ea"/><g fill="#d8f0fb"><rect x="552" y="866" width="351" height="10"/><rect x="552" y="920" width="351" height="10"/><rect x="552" y="866" width="10" height="184"/><rect x="893" y="866" width="10" height="184"/><rect x="660" y="920" width="10" height="130"/><rect x="790" y="920" width="10" height="130"/></g><rect x="690" y="945" width="80" height="105" fill="#1d92d8"/><rect x="726" y="945" width="8" height="105" fill="#d8f0fb"/></g></g>
<g id="legend"><circle cx="139.75" cy="1050.5" r="18.5" fill="#0f9ae1"/>
<circle cx="546.75" cy="1050.3" r="18.5" fill="#f9c924"/>
<circle cx="1016.25" cy="1051" r="18.5" fill="#0b5ab6"/>
<circle cx="1320" cy="1050.5" r="18.5" fill="#7d4fa6"/>
<circle cx="1803.8" cy="1050.5" r="18.5" fill="#98ca33"/></g>
<g id="texts"><text transform="translate(117.50,77.60) scale(1.0916,1)" font-size="42" font-weight="bold" fill="#0d0d0d">У 2021 РОЦІ НА БОРОТЬБУ З COVID-19 ВИТРАЧЕНО</text>
<text transform="translate(116.01,122.00) scale(1.1589,1)" font-size="42" font-weight="bold" fill="#0d0d0d">46,4 МЛРД ГРН</text>
<text transform="translate(1795.51,67.60) scale(1.1898,1)" font-size="22" fill="#2b2b2b">Міністерство</text>
<text transform="translate(1796.63,93.20) scale(1.1017,1)" font-size="22" font-weight="bold" fill="#111">фінансів</text>
<text transform="translate(1797.07,118.80) scale(1.1944,1)" font-size="22" fill="#2b2b2b">України</text>
<text transform="translate(549.36,202.50) scale(1.1275,1)" font-size="19" fill="#2f6db5">Здійснення заходів з боротьби</text>
<text transform="translate(572.09,224.50) scale(1.0786,1)" font-size="19" fill="#2f6db5">з COVID-19 у закладах освіти</text>
<text transform="translate(182.02,268.00) scale(1.1371,1)" font-size="19" fill="#c9b060">Матеріальне забезпечення у зв'язку з тимчасовою</text>
<text transform="translate(287.43,290.00) scale(1.1554,1)" font-size="19" fill="#c9b060">втратою працездатності («лікарняних»)</text>
<text transform="translate(230.35,342.50) scale(1.1487,1)" font-size="19" fill="#c9b060">Заходи щодо соціальної підтримки населення</text>
<text transform="translate(497.45,364.50) scale(1.1370,1)" font-size="19" fill="#c9b060">в умовах карантину</text>
<text transform="translate(229.26,410.00) scale(1.1444,1)" font-size="19" fill="#c9b060">Виплати по безробіттю та частковому</text>
<text transform="translate(498.39,432.00) scale(1.1650,1)" font-size="19" fill="#c9b060">безробіттю</text>
<text transform="translate(173.04,483.75) scale(1.1458,1)" font-size="19" fill="#45a6d6">Інші заходи у сфері охорони здоров’я</text>
<text transform="translate(168.75,581.75) scale(1.1458,1)" font-size="19" fill="#45a6d6">Доплати до зарплат медичним працівникам</text>
<text transform="translate(291.34,630.00) scale(1.1530,1)" font-size="19" fill="#45a6d6">Забезпечення лікарень киснем,</text>
<text transform="translate(227.50,652.50) scale(1.1575,1)" font-size="19" fill="#45a6d6">діагностичним обладнанням, експрес</text>
<text transform="translate(245.53,675.00) scale(1.1339,1)" font-size="19" fill="#45a6d6">тестами та витратними матеріалами</text>
<text transform="translate(458.75,697.50) scale(1.1182,1)" font-size="19" fill="#45a6d6">для тестування</text>
<text transform="translate(454.37,920.75) scale(1.1095,1)" font-size="19" fill="#45a6d6">Закупівля вакцин від COVID-19</text>
<text transform="translate(1223.75,206.25) scale(1.1424,1)" font-size="19" fill="#8468ab">Доплати до заробітної плати військовослужбовцям Національної гвардії</text>
<text transform="translate(1379.78,228.75) scale(1.1566,1)" font-size="19" fill="#8468ab">та Державної прикордонної служби, органів і підрозділів</text>
<text transform="translate(1399.43,251.25) scale(1.1614,1)" font-size="19" fill="#8468ab">цивільного захисту, поліцейським, медичним та іншим</text>
<text transform="translate(1457.44,273.75) scale(1.1470,1)" font-size="19" fill="#8468ab">працівникам відомчих закладів охорони здоров’я</text>
<text transform="translate(1365.73,413.75) scale(1.1639,1)" font-size="19" fill="#a6cf66">Проведення інформаційно-комунікаційної кампанії серед</text>
<text transform="translate(1414.44,436.25) scale(1.1520,1)" font-size="19" fill="#a6cf66">населення щодо вакцинації від гострої респіраторної</text>
<text transform="translate(1481.04,458.75) scale(1.1304,1)" font-size="19" fill="#a6cf66">хвороби COVID-19, спричиненої коронавірусом</text>
<text transform="translate(1837.20,481.25) scale(1.0528,1)" font-size="19" fill="#a6cf66">SARS-CoV-2</text>
<text transform="translate(1407.63,674.20) scale(1.1449,1)" font-size="19" fill="#45a6d6">Оплата послуг з екстреної та стаціонарної медичної</text>
<text transform="translate(1408.50,696.40) scale(1.1142,1)" font-size="19" fill="#45a6d6">допомоги, наданих пацієнтам з COVID-19, а також</text>
<text transform="translate(1407.22,719.00) scale(1.1218,1)" font-size="19" fill="#45a6d6">послуг з вакцинації населення від COVID-19</text>
<text transform="translate(868.63,224.80) scale(1.1151,1)" font-size="38" font-weight="bold" fill="#0b5ab6">0,9</text>
<text transform="translate(940.42,213.10) scale(1.1528,1)" font-size="37" font-weight="bold" fill="#7d4fa6">0,8</text>
<text transform="translate(1003.11,231.10) scale(1.1959,1)" font-size="22" stroke="#8dc63f" stroke-width="0.7" fill="#8dc63f">0,025</text>
<text transform="translate(561.46,496.00) scale(0.9370,1)" font-size="37" font-weight="bold" fill="#1b97d5">0,1</text>
<text transform="translate(552.48,549.00) scale(1.1396,1)" font-size="37" font-weight="bold" fill="#1b97d5">0,5</text>
<text transform="translate(845.71,325.40) scale(1.1057,1)" font-size="36" font-weight="bold" fill="#0d0d0d">2,5</text>
<text transform="translate(742.79,388.60) scale(1.1203,1)" font-size="36" font-weight="bold" fill="#0d0d0d">3,0</text>
<text transform="translate(678.82,483.40) scale(1.0889,1)" font-size="36" font-weight="bold" fill="#0d0d0d">2,2</text>
<text transform="translate(827.30,470.80) scale(0.9703,1)" font-size="36" font-weight="bold" fill="#0d0d0d">7,7</text>
<text transform="translate(648.13,602.50) scale(1.0870,1)" font-size="36" font-weight="bold" fill="#ffffff">2,5</text>
<text transform="translate(1158.43,625.80) scale(1.0684,1)" font-size="36" font-weight="bold" fill="#ffffff">36,9</text>
<text transform="translate(1268.12,696.50) scale(1.0893,1)" font-size="36" font-weight="bold" fill="#ffffff">22,4</text>
<text transform="translate(780.74,875.20) scale(0.9537,1)" font-size="36" font-weight="bold" fill="#ffffff">11,4</text>
<text transform="translate(885.88,605.30) scale(1.0931,1)" font-size="102.7" font-weight="bold" fill="#0d0d0d">46,4</text>
<text transform="translate(888.40,662.00) scale(1.0697,1)" font-size="40.5" font-weight="bold" fill="#0d0d0d">МЛРД ГРН</text>
<text transform="translate(175.03,1064.20) scale(1.0308,1)" font-size="23.5" font-weight="bold" fill="#1a90cd">Охорона здоров’я</text>
<text transform="translate(581.02,1060.00) scale(1.0434,1)" font-size="23.5" font-weight="bold" fill="#c8962b">Соціальна сфера</text>
<text transform="translate(1051.04,1060.50) scale(1.0224,1)" font-size="23.5" font-weight="bold" fill="#0b5ab6">Освіта</text>
<text transform="translate(1354.52,1059.50) scale(1.0501,1)" font-size="23.5" font-weight="bold" fill="#7d4fa6">Правоохоронна сфера</text>
<text transform="translate(1839.08,1060.00) scale(1.0785,1)" font-size="23.5" font-weight="bold" fill="#8fc23a">Культура</text></g>
</svg>
</body></html>
